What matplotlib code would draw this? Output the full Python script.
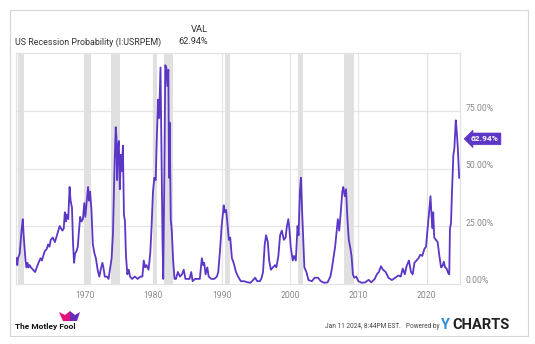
import matplotlib
matplotlib.use('Agg')
import matplotlib.pyplot as plt
import matplotlib.transforms as mtrans
from matplotlib.patches import Rectangle, Polygon

# ---------------- data ----------------
years = [1960.00, 1960.10, 1960.20, 1960.45, 1960.75, 1960.90, 1961.05, 1961.30, 1961.45, 1961.60,
         1961.75, 1961.90, 1962.10, 1962.40, 1962.70, 1962.95, 1963.20, 1963.50, 1963.70, 1963.90,
         1964.10, 1964.40, 1964.60, 1964.80, 1965.00, 1965.30, 1965.60, 1965.90, 1966.10, 1966.30,
         1966.50, 1966.70, 1966.90, 1967.05, 1967.20, 1967.35, 1967.55, 1967.75, 1967.90, 1968.10,
         1968.25, 1968.40, 1968.55, 1968.75, 1968.95, 1969.10, 1969.30, 1969.50, 1969.70, 1969.90,
         1970.05, 1970.30, 1970.45, 1970.60, 1970.75, 1970.95, 1971.15, 1971.40, 1971.60, 1971.85,
         1972.10, 1972.30, 1972.55, 1972.70, 1972.90, 1973.20, 1973.45, 1973.70, 1973.90, 1974.10,
         1974.30, 1974.50, 1974.60, 1974.70, 1974.80, 1974.95, 1975.10, 1975.25, 1975.40, 1975.55,
         1975.70, 1975.85, 1976.00, 1976.20, 1976.40, 1976.60, 1976.90, 1977.30, 1977.70, 1978.10,
         1978.40, 1978.60, 1978.80, 1979.00, 1979.30, 1979.55, 1979.75, 1979.95, 1980.15, 1980.35,
         1980.50, 1980.70, 1980.85, 1981.05, 1981.20, 1981.35, 1981.45, 1981.60, 1981.75, 1981.90,
         1982.05, 1982.20, 1982.30, 1982.40, 1982.55, 1982.70, 1982.90, 1983.10, 1983.30, 1983.60,
         1983.90, 1984.20, 1984.45, 1984.70, 1985.00, 1985.30, 1985.55, 1985.75, 1986.10, 1986.50,
         1986.80, 1987.10, 1987.30, 1987.45, 1987.65, 1987.90, 1988.10, 1988.50, 1988.90, 1989.30,
         1989.50, 1989.75, 1990.00, 1990.30, 1990.45, 1990.65, 1990.85, 1991.05, 1991.25, 1991.50,
         1991.75, 1992.10, 1992.40, 1992.80, 1993.30, 1993.80, 1994.20, 1994.60, 1994.90, 1995.20,
         1995.60, 1995.85, 1996.05, 1996.30, 1996.50, 1996.75, 1996.95, 1997.20, 1997.50, 1997.80,
         1998.00, 1998.30, 1998.55, 1998.80, 1999.10, 1999.35, 1999.55, 1999.75, 1999.90, 2000.10,
         2000.40, 2000.60, 2000.85, 2001.10, 2001.25, 2001.45, 2001.60, 2001.75, 2001.95, 2002.10,
         2002.40, 2002.70, 2003.20, 2003.60, 2004.10, 2004.50, 2005.00, 2005.50, 2005.90, 2006.10,
         2006.35, 2006.60, 2006.80, 2007.00, 2007.20, 2007.45, 2007.65, 2007.80, 2008.00, 2008.20,
         2008.40, 2008.60, 2008.85, 2009.00, 2009.20, 2009.40, 2009.70, 2010.00, 2010.50, 2011.00,
         2011.50, 2011.90, 2012.40, 2012.70, 2013.00, 2013.30, 2013.60, 2014.00, 2014.40, 2014.90,
         2015.40, 2015.85, 2016.20, 2016.50, 2016.80, 2017.05, 2017.40, 2017.70, 2017.95, 2018.20,
         2018.50, 2018.80, 2019.05, 2019.35, 2019.65, 2019.90, 2020.10, 2020.35, 2020.55, 2020.70,
         2020.85, 2020.95, 2021.10, 2021.35, 2021.60, 2021.85, 2022.10, 2022.30, 2022.50, 2022.70,
         2022.90, 2023.15, 2023.30, 2023.40, 2023.55, 2023.70, 2023.90, 2024.05, 2024.25, 2024.40,
         2024.55, 2024.75]
probability = [11, 8, 11, 13, 24, 28, 20, 10, 7, 9,
               7, 8, 7, 6, 5, 7, 9, 11, 10, 12,
               14, 15, 17, 16, 19, 20, 18, 21, 23, 25,
               24, 23, 24, 31, 27, 30, 28, 42, 36, 33,
               18, 9, 13, 14, 16, 22, 29, 27, 28, 35,
               29, 37, 42, 36, 40, 32, 17, 13, 11, 6,
               3, 6, 9, 7, 3, 3, 2, 7, 11, 22,
               48, 68, 64, 45, 58, 62, 41, 56, 49, 60,
               30, 27, 12, 4, 6, 3, 2, 3, 2, 3,
               3, 10, 7, 8, 6, 13, 25, 40, 46, 45,
               62, 80, 72, 94, 55, 18, 2, 43, 95, 94,
               86, 93, 46, 70, 28, 23, 10, 2, 2, 5,
               3, 4, 6, 2, 2, 2, 5, 1, 2, 2,
               2, 11, 8, 9, 4, 7, 3, 2, 2, 3,
               5, 14, 25, 34, 31, 32, 26, 19, 20, 11,
               9, 5, 3, 1, 1, 0.5, 0.3, 1.5, 2.5, 1,
               1, 2.5, 5, 17, 21, 18, 10, 6, 7, 8,
               7, 12, 21, 23, 19, 20, 25, 28, 24, 16,
               10, 12, 10, 25, 21, 40, 46, 33, 18, 7,
               5, 1.5, 1, 2.5, 2.5, 1, 0.3, 0.5, 3, 6,
               11, 16, 22, 28, 23, 32, 40, 42, 38, 41,
               28, 19, 15, 12, 4, 2.5, 3, 1, 0.3, 0.5,
               1.6, 0.5, 2, 4, 5, 7.5, 6, 5, 2.5, 1.5,
               2.5, 3.5, 3, 6.5, 4, 7.5, 10, 5, 4, 9,
               10, 11, 12.5, 12, 15, 16, 23, 31, 38, 30,
               24, 31, 20, 19, 18, 12, 7, 7.5, 9.5, 7,
               6.5, 4.5, 4, 24, 26, 40, 56, 59, 71, 66,
               59, 46]
rec_start = [1960.25, 1969.92, 1973.83, 1980.00, 1981.50, 1990.50, 2001.17, 2007.92, 2020.08]
rec_end = [1961.08, 1970.83, 1975.17, 1980.50, 1982.83, 1991.17, 2001.83, 2009.42, 2020.25]
x_ticks = [1970, 1980, 1990, 2000, 2010, 2020]
x_tick_labels = ['1970', '1980', '1990', '2000', '2010', '2020']
y_ticks = [0, 25, 50, 75]
y_tick_labels = ['0.00%', '25.00%', '50.00%', '75.00%']
series_name = 'US Recession Probability (I:USRPEM)'
latest_value = 62.94
latest_label = '62.94%'
timestamp = 'Jan 11 2024, 8:44PM EST.'

# ---------------- styling ----------------
plt.rcParams['font.family'] = ['Roboto', 'DejaVu Sans']
W, H = 535, 344
PURPLE = '#5c36c6'
GRID = '#e6e6e6'
BAND = '#e0e0e0'
TXT = '#333333'
TICK = '#8a8a8a'

fig = plt.figure(figsize=(W / 100, H / 100), dpi=100)
fig.patch.set_facecolor('white')

def fx(px):
    return px / W

def fy(py):
    return 1 - py / H

# card frame
fig.add_artist(Rectangle((fx(10), fy(336)), fx(518), 326 / H, transform=fig.transFigure,
                         fill=False, edgecolor='#d6d6d6', lw=0.8))

ax = fig.add_axes([fx(16), fy(283.5), fx(444), (283.5 - 53) / H])
ax.set_facecolor('white')
ax.set_xlim(1959.91, 2024.87)
ax.set_ylim(0, 100.3)

for s, e in zip(rec_start, rec_end):
    ax.axvspan(s, e, color=BAND, lw=0, zorder=1)
for xt in x_ticks:
    ax.axvline(xt, color=GRID, lw=0.9, zorder=0.5)
for yt in y_ticks[1:]:
    ax.axhline(yt, color=GRID, lw=0.9, zorder=0.5)

ax.plot(years, probability, color=PURPLE, lw=1.3, solid_joinstyle='round', zorder=3)

for sp in ax.spines.values():
    sp.set_color('#e2e2e2')
    sp.set_linewidth(0.9)

ax.set_xticks(x_ticks)
ax.set_xticklabels(x_tick_labels)
ax.set_yticks(y_ticks)
ax.set_yticklabels(y_tick_labels)
ax.yaxis.tick_right()
ax.tick_params(axis='both', length=0, labelsize=6.2, colors=TICK)
ax.tick_params(axis='x', pad=5.5)
ax.tick_params(axis='y', pad=4)
shift = mtrans.ScaledTranslation(0, 4 / 100, fig.dpi_scale_trans)
for lab in ax.get_yticklabels():
    lab.set_transform(lab.get_transform() + shift)

# latest value tag
ax.text(1.024, latest_value, latest_label,
        transform=mtrans.blended_transform_factory(ax.transAxes, ax.transData),
        ha='left', va='center', color='white', fontsize=6.0, fontweight='bold',
        bbox=dict(boxstyle='larrow,pad=0.28', fc=PURPLE, ec=PURPLE, lw=0.5), zorder=5,
        clip_on=False)

# header
fig.text(fx(208), fy(30), 'VAL', ha='right', va='center', fontsize=6.8, color=TXT)
fig.text(fx(15), fy(42), series_name, ha='left', va='center', fontsize=6.4, color=TXT)
fig.text(fx(208), fy(42), latest_label, ha='right', va='center', fontsize=6.6, color=TXT)

# footer
fig.text(fx(15), fy(326), 'The Motley Fool', ha='left', va='center', fontsize=6,
         fontweight='bold', color='#111111')
hat_l = Polygon([[fx(63), fy(321)], [fx(59), fy(312)], [fx(65), fy(315)], [fx(70), fy(311)],
                 [fx(71), fy(321)]], closed=True, transform=fig.transFigure,
                facecolor='#e2127a', edgecolor='none')
hat_r = Polygon([[fx(70), fy(321)], [fx(70), fy(311)], [fx(75), fy(315)], [fx(80), fy(312)],
                 [fx(77), fy(321)]], closed=True, transform=fig.transFigure,
                facecolor='#6a2bb8', edgecolor='none')
fig.add_artist(hat_l)
fig.add_artist(hat_r)
fig.text(fx(325), fy(326), timestamp, ha='left', va='center', fontsize=4.7, color='#444444')
fig.text(fx(406), fy(326), 'Powered by', ha='left', va='center', fontsize=4.7, color='#444444')
fig.text(fx(440), fy(325), 'Y', ha='left', va='center', fontsize=10.5, color='#2a8fd8',
         fontweight='bold')
fig.text(fx(452), fy(325), 'CHARTS', ha='left', va='center', fontsize=10.5, color='#222222',
         fontweight='bold')

fig.savefig('out.png', dpi=100, facecolor='white')
